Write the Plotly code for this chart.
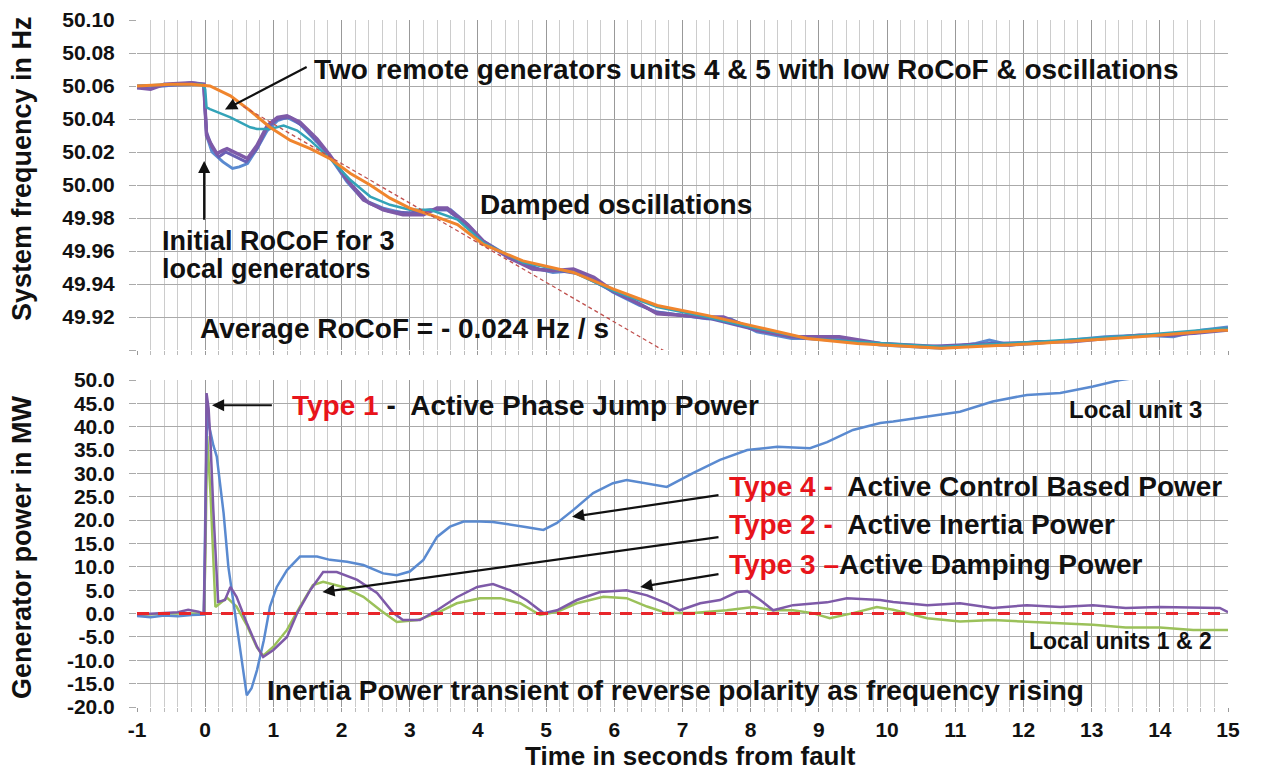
import plotly.graph_objects as go

# ---------------- DATA ----------------
# Top panel: system frequency (Hz)
t_u4 = [-1, -0.5, -0.2, 0.07, 0.37, 0.66, 0.95, 1.25, 1.54, 1.83, 2.13, 2.42, 2.71, 3.0, 3.3, 3.7,
        4.08, 4.66, 5.4, 5.98, 6.63, 7.36, 8.09, 8.83, 9.56, 10.8, 12.2, 13.7, 14.9, 15]
f_u4 = [50.060, 50.061, 50.061, 50.060, 50.054, 50.045, 50.035, 50.027, 50.022, 50.016, 50.007, 50.000,
        49.992, 49.986, 49.982, 49.976, 49.964, 49.954, 49.947, 49.937, 49.927, 49.921, 49.914, 49.907,
        49.904, 49.901, 49.904, 49.908, 49.912, 49.912]

t_u5 = [-1, -0.5, -0.05, 0.0, 0.02, 0.07, 0.37, 0.66, 0.76, 0.95, 1.15, 1.35, 1.54, 1.83, 2.13, 2.42,
        2.71, 3.0, 3.3, 3.7, 4.08, 4.66, 5.4, 5.98, 6.63, 7.36, 8.09, 8.83, 9.56, 10.8, 12.2, 13.7, 14.9, 15]
f_u5 = [50.060, 50.061, 50.061, 50.058, 50.047, 50.046, 50.041, 50.035, 50.034, 50.034, 50.036, 50.033,
        50.027, 50.016, 50.003, 49.993, 49.988, 49.985, 49.985, 49.979, 49.965, 49.953, 49.947, 49.936,
        49.926, 49.920, 49.913, 49.907, 49.905, 49.902, 49.905, 49.909, 49.913, 49.913]

t_u1 = [-1, -0.8, -0.6, -0.2, -0.02, 0.0, 0.02, 0.07, 0.17, 0.26, 0.32, 0.47, 0.62, 0.76, 0.91, 1.06,
        1.2, 1.39, 1.64, 1.83, 2.08, 2.32, 2.61, 2.9, 3.2, 3.4, 3.55, 3.7, 3.85, 4.08, 4.45, 4.8, 5.1,
        5.4, 5.7, 5.98, 6.37, 6.63, 7.36, 7.6, 8.09, 8.6, 9.3, 9.9, 10.4, 10.8, 11.3, 11.8, 12.2, 12.7,
        13.2, 13.7, 14.2, 14.6, 15]
f_u1 = [50.059, 50.058, 50.061, 50.062, 50.061, 50.045, 50.030, 50.026, 50.019, 50.021, 50.022, 50.019,
        50.016, 50.024, 50.036, 50.041, 50.042, 50.038, 50.028, 50.018, 50.003, 49.991, 49.985, 49.982,
        49.982, 49.986, 49.986, 49.981, 49.976, 49.966, 49.956, 49.949, 49.948, 49.949, 49.944, 49.936,
        49.928, 49.922, 49.920, 49.920, 49.912, 49.908, 49.908, 49.904, 49.903, 49.902, 49.903, 49.903,
        49.905, 49.905, 49.907, 49.909, 49.909, 49.911, 49.913]

t_u2 = [-1, -0.2, -0.02, 0.0, 0.02, 0.1, 0.2, 0.3, 0.45, 0.6, 0.76, 0.91, 1.06, 1.25, 1.45, 1.7, 1.9,
        2.15, 2.4, 2.7, 3.0, 3.3, 3.55, 3.8, 4.1, 4.5, 4.9, 5.2, 5.5, 6.0, 6.6, 7.4, 8.1, 8.8, 9.6,
        10.5, 11.5, 12.5, 13.5, 14.5, 15]
f_u2 = [50.060, 50.061, 50.061, 50.045, 50.032, 50.023, 50.017, 50.020, 50.017, 50.014, 50.022, 50.035,
        50.040, 50.041, 50.035, 50.024, 50.014, 50.000, 49.989, 49.984, 49.983, 49.985, 49.985, 49.977,
        49.965, 49.955, 49.949, 49.948, 49.946, 49.935, 49.923, 49.919, 49.912, 49.907, 49.905, 49.902,
        49.904, 49.905, 49.908, 49.910, 49.912]

t_u3 = [-1, -0.6, -0.2, -0.02, 0.0, 0.02, 0.1, 0.26, 0.4, 0.5, 0.62, 0.76, 0.91, 1.06, 1.2, 1.39, 1.64,
        1.83, 2.08, 2.32, 2.61, 2.9, 3.2, 3.4, 3.6, 3.8, 4.08, 4.45, 4.8, 5.1, 5.4, 5.7, 5.98, 6.37,
        6.63, 7.36, 7.7, 8.09, 8.6, 9.3, 9.9, 10.4, 10.8, 11.3, 11.5, 11.8, 12.2, 12.7, 13.2, 13.7,
        14.2, 14.6, 15]
f_u3 = [50.059, 50.060, 50.062, 50.061, 50.045, 50.030, 50.020, 50.014, 50.010, 50.011, 50.013, 50.022,
        50.033, 50.039, 50.041, 50.037, 50.026, 50.017, 50.002, 49.991, 49.986, 49.983, 49.983, 49.985,
        49.985, 49.978, 49.966, 49.957, 49.950, 49.947, 49.948, 49.943, 49.935, 49.927, 49.923, 49.919,
        49.919, 49.911, 49.907, 49.907, 49.903, 49.902, 49.901, 49.904, 49.906, 49.903, 49.904, 49.906,
        49.908, 49.909, 49.908, 49.912, 49.914]

# Average RoCoF line (Hz), -0.024 Hz/s
t_rocof = [0.56, 7.0]
f_rocof = [50.0476, 49.893]

# Bottom panel: generator power (MW)
t_p3 = [-1, -0.8, -0.6, -0.4, -0.2, -0.02, 0.0, 0.03, 0.06, 0.12, 0.17, 0.27, 0.34, 0.42, 0.51, 0.61,
        0.68, 0.76, 0.86, 0.95, 1.05, 1.2, 1.39, 1.64, 1.83, 2.08, 2.32, 2.61, 2.81, 3.0, 3.2, 3.4, 3.59,
        3.79, 4.03, 4.22, 4.72, 4.96, 5.16, 5.4, 5.69, 5.98, 6.18, 6.48, 6.77, 7.16, 7.55, 7.95, 8.39,
        8.87, 9.12, 9.5, 9.9, 10.09, 10.59, 11.07, 11.55, 12.05, 12.54, 13.02, 13.42, 13.7, 14.2, 15]
p_p3 = [-0.5, -0.8, -0.4, -0.6, -0.3, -0.2, 20.0, 44.0, 40.0, 36.0, 33.6, 21.5, 10.0, 1.5, -7.1, -17.5,
        -16.0, -12.1, -5.7, 1.5, 5.7, 9.3, 12.2, 12.2, 11.5, 11.1, 10.4, 8.6, 8.2, 9.0, 11.5, 16.4, 18.6,
        19.7, 19.7, 19.6, 18.5, 17.9, 19.4, 22.2, 25.8, 27.9, 28.6, 27.9, 27.1, 30.1, 32.9, 35.0, 35.7,
        35.4, 36.7, 39.3, 40.8, 41.1, 42.1, 43.2, 45.4, 46.8, 47.2, 48.6, 50.0, 50.5, 51.5, 53.0]

t_p1 = [-1, -0.7, -0.4, -0.25, -0.1, -0.02, 0.0, 0.02, 0.05, 0.08, 0.12, 0.19, 0.29, 0.37, 0.46, 0.61,
        0.76, 0.85, 1.0, 1.2, 1.35, 1.54, 1.73, 1.93, 2.23, 2.52, 2.76, 2.9, 3.15, 3.4, 3.69, 3.99, 4.22,
        4.47, 4.72, 4.96, 5.16, 5.45, 5.79, 6.18, 6.48, 6.77, 6.96, 7.26, 7.55, 7.8, 7.95, 8.14, 8.33,
        8.62, 9.12, 9.41, 9.9, 10.09, 10.59, 11.07, 11.55, 12.05, 12.54, 13.02, 13.5, 14.0, 14.49, 14.88, 15]
p_p1 = [-0.2, 0.0, 0.3, 0.8, 0.4, 0.0, 15.0, 47.2, 44.0, 36.0, 22.0, 2.5, 2.9, 5.7, 3.6, -2.0, -7.1,
        -9.3, -7.8, -5.0, 0.1, 5.0, 8.9, 8.9, 7.2, 4.4, 0.1, -1.4, -1.4, 0.7, 3.5, 5.7, 6.3, 5.0, 2.8,
        0.1, 0.7, 2.9, 4.6, 5.0, 3.9, 2.2, 0.7, 2.2, 2.9, 4.6, 4.8, 2.9, 0.7, 1.8, 2.4, 3.3, 2.9, 2.5,
        1.8, 2.2, 1.2, 1.8, 1.4, 1.8, 1.2, 1.4, 1.2, 1.2, 0.3]

t_p2 = [-1, -0.5, -0.02, 0.0, 0.03, 0.08, 0.15, 0.32, 0.46, 0.61, 0.76, 0.85, 1.0, 1.2, 1.39, 1.58,
        1.73, 2.02, 2.32, 2.57, 2.81, 3.11, 3.4, 3.69, 4.03, 4.33, 4.62, 4.91, 5.16, 5.45, 5.84, 6.18,
        6.48, 6.77, 7.16, 7.65, 8.04, 8.33, 8.62, 8.91, 9.16, 9.5, 9.85, 10.09, 10.59, 11.07, 11.55,
        12.05, 12.54, 13.02, 13.5, 14.0, 14.49, 15]
p_p2 = [-0.3, 0.0, 0.0, 10.0, 38.0, 25.0, 1.4, 3.4, 1.5, -2.5, -7.3, -9.0, -7.1, -3.5, 1.5, 6.1, 6.8,
        5.7, 3.6, 0.7, -1.8, -1.4, 0.1, 2.2, 3.3, 3.3, 2.2, -0.3, 0.4, 2.2, 3.6, 3.3, 1.5, 0.1, 0.1,
        0.7, 1.4, 0.7, 0.7, 0.1, -1.0, 0.1, 1.4, 0.8, -1.0, -1.7, -1.4, -1.7, -2.0, -2.4, -3.0, -3.0,
        -3.5, -3.5]

t_zero = [-1, 15]
p_zero = [0, 0]

# Tick labels
x_tickvals = list(range(-1, 16))
x_ticktext = ["-1"] + [str(v) for v in range(0, 16)]
f_tickvals = [49.90, 49.92, 49.94, 49.96, 49.98, 50.00, 50.02, 50.04, 50.06, 50.08, 50.10]
f_ticktext = ["", "49.92", "49.94", "49.96", "49.98", "50.00", "50.02", "50.04", "50.06", "50.08", "50.10"]
p_tickvals = [-20, -15, -10, -5, 0, 5, 10, 15, 20, 25, 30, 35, 40, 45, 50]
p_ticktext = ["-20.0", "-15.0", "-10.0", "-5.0", "0.0", "5.0", "10.0", "15.0", "20.0", "25.0",
              "30.0", "35.0", "40.0", "45.0", "50.0"]

# ---------------- STYLE ----------------
FONT = "Liberation Sans, Arial, sans-serif"
C_ORANGE = "#F0852D"
C_TEAL = "#33A3B8"
C_PURPLE = "#7E5AA8"
C_PURPLE2 = "#6A5FB5"
C_BLUE = "#5A8AD0"
C_GREEN = "#9BC15A"
C_RED = "#E8262B"
RED_TXT = "#E8141B"

fig = go.Figure()

fig.add_trace(go.Scatter(x=t_u3, y=f_u3, mode="lines", line=dict(color=C_BLUE, width=3), xaxis="x", yaxis="y"))
fig.add_trace(go.Scatter(x=t_u2, y=f_u2, mode="lines", line=dict(color=C_PURPLE2, width=3), xaxis="x", yaxis="y"))
fig.add_trace(go.Scatter(x=t_u1, y=f_u1, mode="lines", line=dict(color=C_PURPLE, width=3.5), xaxis="x", yaxis="y"))
fig.add_trace(go.Scatter(x=t_u5, y=f_u5, mode="lines", line=dict(color=C_TEAL, width=2.5), xaxis="x", yaxis="y"))
fig.add_trace(go.Scatter(x=t_u4, y=f_u4, mode="lines", line=dict(color=C_ORANGE, width=3), xaxis="x", yaxis="y"))
fig.add_trace(go.Scatter(x=t_rocof, y=f_rocof, mode="lines",
                         line=dict(color="#C0504D", width=1.3, dash="4px,3px"), xaxis="x", yaxis="y"))

fig.add_trace(go.Scatter(x=t_p2, y=p_p2, mode="lines", line=dict(color=C_GREEN, width=2.5), xaxis="x2", yaxis="y2"))
fig.add_trace(go.Scatter(x=t_p3, y=p_p3, mode="lines", line=dict(color=C_BLUE, width=2.5), xaxis="x2", yaxis="y2"))
fig.add_trace(go.Scatter(x=t_p1, y=p_p1, mode="lines", line=dict(color=C_PURPLE, width=2.5), xaxis="x2", yaxis="y2"))
fig.add_trace(go.Scatter(x=t_zero, y=p_zero, mode="lines",
                         line=dict(color=C_RED, width=3, dash="12px,9px"), xaxis="x2", yaxis="y2"))

# page offset (browser body margin) compensation
OFF = 8
W, H = 1261, 769
PL, PR, PT, PB = 137 - OFF, 1228 - OFF, 20 - OFF, 707 - OFF   # plot area in page pixels
ML, MR, MT, MB = PL, W - PR, PT, H - PB
plot_w = PR - PL
plot_h = PB - PT
top_dom = [(PB - (350 - OFF)) / plot_h, 1.0]
bot_dom = [0.0, (PB - (380 - OFF)) / plot_h]

def px(x):
    return (x - OFF - PL) / plot_w

def py(y):
    return (PB - (y - OFF)) / plot_h

tickfont = dict(family=FONT, size=21, color="#111111", weight="bold")
xcommon = dict(range=[-1, 15], tickvals=x_tickvals, ticktext=x_ticktext, showgrid=True,
               gridcolor="#999999", gridwidth=1,
               minor=dict(dtick=0.2, showgrid=True, gridcolor="#cccccc", gridwidth=1,
                          ticks="outside", ticklen=4, tickcolor="#bbbbbb"),
               ticks="outside", ticklen=4, tickcolor="#999999",
               zeroline=False, showline=False, tickfont=tickfont)

fig.update_layout(
    width=W, height=H, paper_bgcolor="white", plot_bgcolor="white",
    margin=dict(l=ML, r=MR, t=MT, b=MB, autoexpand=False), showlegend=False,
    font=dict(family=FONT, color="#111111"),
    xaxis=dict(**xcommon, domain=[0, 1], anchor="y", showticklabels=False),
    xaxis2=dict(**xcommon, domain=[0, 1], anchor="y2", matches="x", showticklabels=True,
                ticklabelstandoff=0),
    yaxis=dict(domain=top_dom, range=[49.90, 50.10], tickvals=f_tickvals, ticktext=f_ticktext,
               showgrid=True, gridcolor="#aaaaaa", zeroline=False, ticks="outside", ticklen=7,
               tickcolor="#aaaaaa", tickfont=tickfont, ticklabelstandoff=10, anchor="x",
               ticklabeloverflow="allow"),
    yaxis2=dict(domain=bot_dom, range=[-20, 50], tickvals=p_tickvals, ticktext=p_ticktext,
                showgrid=True, gridcolor="#aaaaaa", zeroline=False, ticks="outside", ticklen=7,
                tickcolor="#aaaaaa", tickfont=tickfont, ticklabelstandoff=10, anchor="x2",
                ticklabeloverflow="allow"),
)

def F(size):
    return dict(family=FONT, size=size, color="#111111", weight="bold")

def text_ann(x, y, txt, xr="x", yr="y", size=28, xanchor="left"):
    fig.add_annotation(x=x, y=y, xref=xr, yref=yr, text=txt, showarrow=False, font=F(size),
                       xanchor=xanchor, yanchor="middle", align="left")

def arrow_ann(x, y, ax, ay, xr="x", yr="y"):
    fig.add_annotation(x=x, y=y, ax=ax, ay=ay, xref=xr, yref=yr, axref=xr, ayref=yr, text="",
                       showarrow=True, arrowhead=2, arrowsize=1.1, arrowwidth=2.2, arrowcolor="#111111")

# top panel texts
text_ann(1.57, 50.070, "Two remote generators units 4 &amp; 5 with low RoCoF &amp; oscillations")
text_ann(4.0, 49.988, "Damped oscillations")
text_ann(-0.66, 49.966, "Initial RoCoF for 3", size=27)
text_ann(-0.66, 49.949, "local generators", size=27)
text_ann(-0.10, 49.913, "Average RoCoF = - 0.024 Hz / s")
arrow_ann(0.29, 50.0457, 1.51, 50.072)
arrow_ann(-0.015, 50.0146, -0.015, 49.978)

# bottom panel texts
text_ann(1.25, 44.6, f"<span style='color:{RED_TXT}'>Type 1</span> -  Active Phase Jump Power", "x2", "y2")
text_ann(7.65, 27.1, f"<span style='color:{RED_TXT}'>Type 4 -</span>  Active Control Based Power", "x2", "y2")
text_ann(7.65, 19.0, f"<span style='color:{RED_TXT}'>Type 2 -</span>  Active Inertia Power", "x2", "y2")
text_ann(7.65, 10.4, f"<span style='color:{RED_TXT}'>Type 3 –</span>Active Damping Power", "x2", "y2")
text_ann(13.64, 43.6, "Local unit 3", "x2", "y2", size=24, xanchor="center")
text_ann(13.42, -5.9, "Local units 1 &amp; 2", "x2", "y2", size=23, xanchor="center")
text_ann(0.88, -16.4, "Inertia Power transient of reverse polarity as frequency rising", "x2", "y2")
arrow_ann(0.10, 44.6, 1.0, 44.6, "x2", "y2")
arrow_ann(5.38, 20.7, 7.55, 25.4, "x2", "y2")
arrow_ann(1.72, 4.6, 7.55, 16.4, "x2", "y2")
arrow_ann(6.38, 5.7, 7.55, 8.5, "x2", "y2")

# axis titles
fig.add_annotation(x=px(22), y=py(169), xref="paper", yref="paper", text="System frequency in Hz",
                   textangle=-90, showarrow=False, font=F(27), xanchor="center", yanchor="middle")
fig.add_annotation(x=px(22), y=py(547), xref="paper", yref="paper", text="Generator power in MW",
                   textangle=-90, showarrow=False, font=F(27), xanchor="center", yanchor="middle")
fig.add_annotation(x=px(690), y=py(756), xref="paper", yref="paper", text="Time in seconds from fault",
                   showarrow=False, font=F(26), xanchor="center", yanchor="middle")

fig.write_html("out.html")
